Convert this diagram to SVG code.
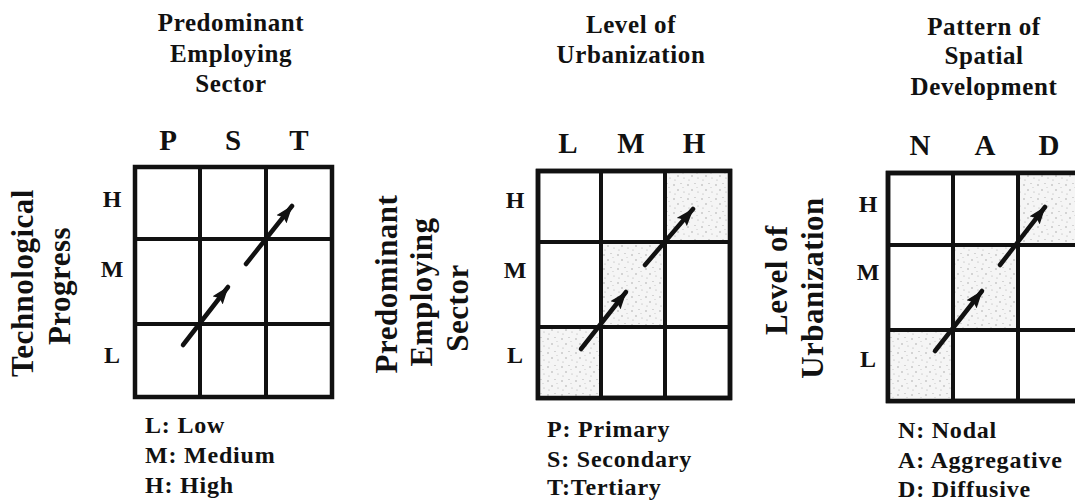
<svg xmlns="http://www.w3.org/2000/svg" width="1075" height="502" viewBox="0 0 1075 502">
<style>
text{font-family:"Liberation Serif","Times New Roman",serif;font-weight:bold;fill:#111}
.title{font-size:25px;letter-spacing:0.6px;text-anchor:middle}
.col{font-size:29px;text-anchor:middle}
.row{font-size:24px;text-anchor:middle}
.vlab{font-size:31px;letter-spacing:0.5px;text-anchor:middle}
.leg{font-size:24px;letter-spacing:0.8px}
.grid{fill:none;stroke:#111;stroke-width:4}
.frame{fill:#fff;stroke:#111;stroke-width:4.5}
.shade{fill:url(#stipple)}
.arrow{stroke:#111;stroke-width:4.5;stroke-linecap:round;fill:none;marker-end:url(#ah)}
</style>
<defs>
<pattern id="stipple" width="14" height="14" patternUnits="userSpaceOnUse">
<rect width="14" height="14" fill="#f5f5f5"/>
<circle cx="2" cy="3" r="0.7" fill="#999"/>
<circle cx="9" cy="1.5" r="0.6" fill="#aaa"/>
<circle cx="6" cy="8" r="0.7" fill="#999"/>
<circle cx="12" cy="10" r="0.6" fill="#aaa"/>
<circle cx="3" cy="12" r="0.6" fill="#aaa"/>
<circle cx="11" cy="5.5" r="0.5" fill="#bbb"/>
</pattern>
<marker id="ah" viewBox="0 0 18 14" refX="17" refY="7" markerWidth="18" markerHeight="14" markerUnits="userSpaceOnUse" orient="auto">
<path d="M0,0.5 L18,7 L0,13.5 L3,7 z" fill="#111"/>
</marker>
</defs>

<g id="panel1">
<text class="title" x="231" y="31">Predominant</text>
<text class="title" x="231" y="62">Employing</text>
<text class="title" x="231" y="92">Sector</text>
<text class="col" x="168" y="150">P</text>
<text class="col" x="233" y="150">S</text>
<text class="col" x="299" y="150">T</text>
<text class="row" x="112" y="207">H</text>
<text class="row" x="112" y="277">M</text>
<text class="row" x="112" y="363">L</text>
<text class="vlab" transform="translate(33,283) rotate(-90)">Technological</text>
<text class="vlab" transform="translate(70,286) rotate(-90)">Progress</text>
<rect class="frame" x="135" y="167" width="197" height="230"/>
<path class="grid" d="M200,167V397M266,167V397M135,239H332M135,324H332"/>
<text class="leg" x="145" y="433">L: Low</text>
<text class="leg" x="145" y="463">M: Medium</text>
<text class="leg" x="145" y="493">H: High</text>
</g>

<g id="panel2">
<text class="title" x="631" y="33">Level of</text>
<text class="title" x="631" y="63">Urbanization</text>
<text class="col" x="568" y="153">L</text>
<text class="col" x="631" y="153">M</text>
<text class="col" x="694" y="153">H</text>
<text class="row" x="515" y="208">H</text>
<text class="row" x="515" y="278">M</text>
<text class="row" x="515" y="363">L</text>
<text class="vlab" transform="translate(397,284) rotate(-90)">Predominant</text>
<text class="vlab" transform="translate(432,292) rotate(-90)">Employing</text>
<text class="vlab" transform="translate(468,308) rotate(-90)">Sector</text>
<rect class="frame" x="538" y="171" width="192" height="227"/>
<rect class="shade" x="538" y="327" width="63" height="71"/>
<rect class="shade" x="601" y="242" width="64" height="85"/>
<rect class="shade" x="665" y="171" width="65" height="71"/>
<rect class="grid" x="538" y="171" width="192" height="227" style="stroke-width:4.5"/>
<path class="grid" d="M601,171V398M665,171V398M538,242H730M538,327H730"/>
<text class="leg" x="547" y="437">P: Primary</text>
<text class="leg" x="547" y="467">S: Secondary</text>
<text class="leg" x="547" y="495">T:Tertiary</text>
</g>

<g id="panel3">
<text class="title" x="984" y="35">Pattern of</text>
<text class="title" x="984" y="64">Spatial</text>
<text class="title" x="984" y="95">Development</text>
<text class="col" x="920" y="155">N</text>
<text class="col" x="985" y="155">A</text>
<text class="col" x="1049" y="155">D</text>
<text class="row" x="868" y="212">H</text>
<text class="row" x="868" y="280">M</text>
<text class="row" x="868" y="367">L</text>
<text class="vlab" transform="translate(787,280) rotate(-90)">Level of</text>
<text class="vlab" transform="translate(823,288) rotate(-90)">Urbanization</text>
<rect class="frame" x="888" y="173" width="195" height="228"/>
<rect class="shade" x="888" y="330" width="65" height="71"/>
<rect class="shade" x="953" y="245" width="65" height="85"/>
<rect class="shade" x="1018" y="173" width="65" height="72"/>
<rect class="grid" x="888" y="173" width="195" height="228" style="stroke-width:4.5"/>
<path class="grid" d="M953,173V401M1018,173V401M888,245H1083M888,330H1083"/>
<text class="leg" x="898" y="438">N: Nodal</text>
<text class="leg" x="898" y="468">A: Aggregative</text>
<text class="leg" x="898" y="497">D: Diffusive</text>
</g>

<g id="connectors">
<line class="arrow" x1="183" y1="345" x2="228" y2="287"/>
<line class="arrow" x1="246" y1="264" x2="292" y2="206"/>
<line class="arrow" x1="581" y1="349" x2="626" y2="292"/>
<line class="arrow" x1="645" y1="265" x2="693" y2="209"/>
<line class="arrow" x1="935" y1="351" x2="982" y2="291"/>
<line class="arrow" x1="1000" y1="265" x2="1045" y2="207"/>
</g>
</svg>
